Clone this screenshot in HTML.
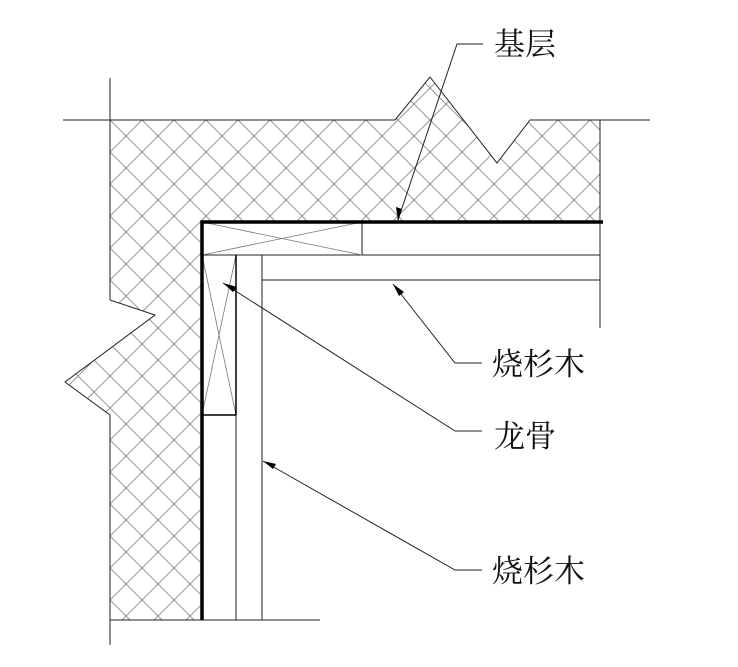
<!DOCTYPE html>
<html><head><meta charset="utf-8"><style>
html,body{margin:0;padding:0;background:#fff;}
svg{display:block}
text{font-family:"Liberation Serif","Noto Serif CJK SC",serif;font-size:31px;fill:#111;}
</style></head><body>
<svg width="738" height="667" viewBox="0 0 738 667" xmlns="http://www.w3.org/2000/svg">
<defs>
<pattern id="h" patternUnits="userSpaceOnUse" width="32" height="32" x="110" y="120">
<path d="M0,0 L32,32 M32,0 L0,32" stroke="#888" stroke-width="0.9" fill="none"/>
</pattern>
<clipPath id="c"><path d="M110,120 L395,120 L430,77 L497,163 L530,120 L600,120 L600,222 L202,222 L202,620 L110,620 L110,415 L65,382 L155,315 L110,300 Z"/></clipPath>
</defs>
<rect x="0" y="0" width="738" height="667" fill="url(#h)" clip-path="url(#c)"/>
<g stroke="#222" stroke-width="1" fill="none">
<line x1="63" y1="120" x2="395" y2="120"/>
<polyline points="395,120 430,77 497,163 530,120 650,120"/>
<line x1="110" y1="78" x2="110" y2="300"/>
<polyline points="110,300 155,315 65,382 110,415 110,645"/>
<line x1="110" y1="620" x2="320" y2="620"/>
<line x1="600" y1="120" x2="600" y2="328"/>
<!-- boards -->
<line x1="202" y1="255" x2="600" y2="255"/>
<line x1="262" y1="280" x2="600" y2="280"/>
<line x1="236" y1="255" x2="236" y2="620"/>
<line x1="262" y1="255" x2="262" y2="620"/>
<line x1="362" y1="222" x2="362" y2="255"/>
<!-- X marks -->
<path d="M202,222 L362,255 M202,255 L362,222" stroke="#777" stroke-width="0.8"/>
<path d="M202,255 L236,415 M236,255 L202,415" stroke="#777" stroke-width="0.8"/>
<!-- leaders -->
<polyline points="483,44 457,44 398,220"/>
<polyline points="482,363 455,363 393,284"/>
<polyline points="482,431 455,431 223,283"/>
<polyline points="482,570 455,570 263,461"/>
</g>
<g stroke="#000" stroke-width="1.5" fill="none">
<line x1="236" y1="415" x2="202" y2="415"/>
<line x1="236" y1="255" x2="236" y2="415"/>
</g>
<g stroke="#000" stroke-width="3.5" fill="none">
<polyline points="202,620 202,222 603,222"/>
</g>
<g fill="#000">
<polygon points="398,221 396,207 402,209"/>
<polygon points="393,284 404,292 399,296"/>
<polygon points="223,283 237,287 233,292"/>
<polygon points="263,461 276,464 273,469"/>
</g>
<text x="494" y="55">基层</text>
<text x="492" y="375">烧杉木</text>
<text x="494" y="447">龙骨</text>
<text x="492" y="582">烧杉木</text>
</svg>
</body></html>
